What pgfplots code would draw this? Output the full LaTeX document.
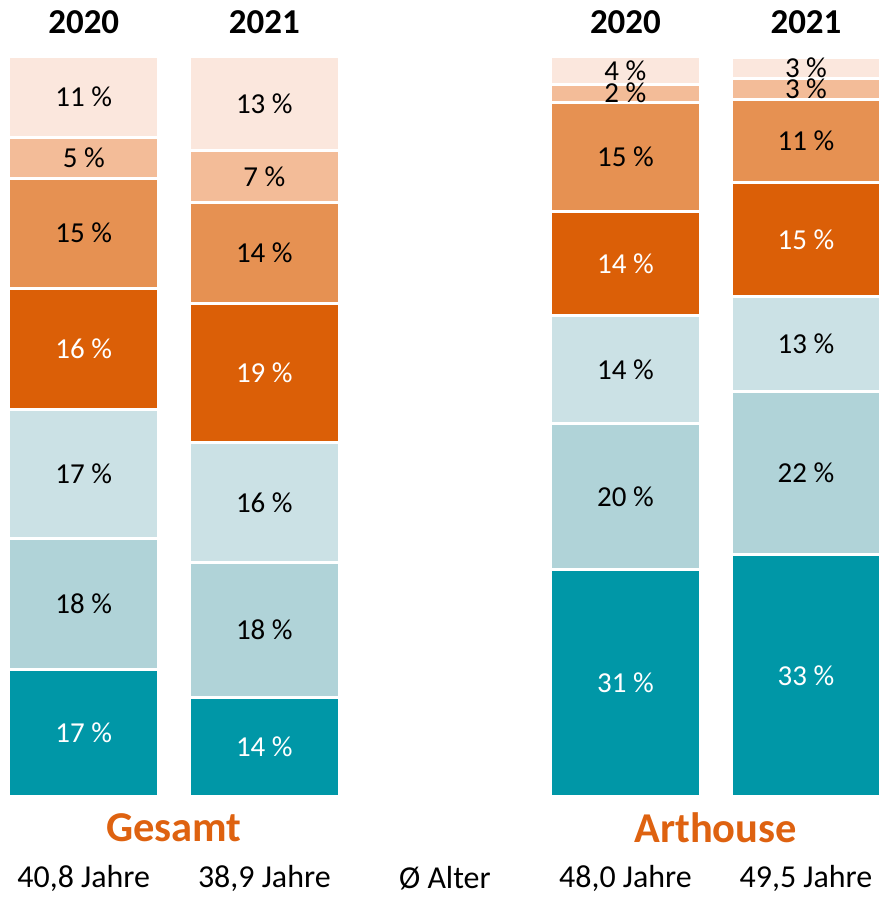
\documentclass[border=0pt]{standalone}
\usepackage{pgfplots}
\pgfplotsset{compat=1.18}
\usepackage{fontspec}
\setmainfont{Carlito}
\definecolor{cA}{HTML}{0097A7}
\definecolor{cB}{HTML}{B0D3D8}
\definecolor{cC}{HTML}{CBE1E5}
\definecolor{cD}{HTML}{DB5F07}
\definecolor{cE}{HTML}{E69152}
\definecolor{cF}{HTML}{F3BC98}
\definecolor{cG}{HTML}{FBE7DD}
\definecolor{hd}{HTML}{DE6210}
\begin{document}
\begin{tikzpicture}
\begin{axis}[
  scale only axis,
  width=441pt, height=449pt,
  xmin=-0.464, xmax=4.41,
  ymin=-13.5, ymax=107.7,
  axis lines=none, ticks=none,
  clip=false,
  ybar stacked,
  bar width=0.829,
  point meta=explicit symbolic,
  nodes near coords={\pgfplotspointmeta~\%},
  every node near coord/.append style={anchor=center, font=\fontsize{14.5}{16}\selectfont, inner sep=0pt},
]
\path (rel axis cs:0,0) rectangle (rel axis cs:1,1);
\addplot[fill=cA, draw=white, line width=1.5pt, every node near coord/.append style={text=white}] coordinates {(0,17.2)[17] (1,13.4)[14] (3,30.7)[31] (4,32.7)[33]};
\addplot[fill=cB, draw=white, line width=1.5pt] coordinates {(0,17.7)[18] (1,18.2)[18] (3,19.7)[20] (4,22.1)[22]};
\addplot[fill=cC, draw=white, line width=1.5pt] coordinates {(0,17.4)[17] (1,16.3)[16] (3,14.6)[14] (4,12.8)[13]};
\addplot[fill=cD, draw=white, line width=1.5pt, every node near coord/.append style={text=white}] coordinates {(0,16.4)[16] (1,18.7)[19] (3,14.1)[14] (4,15.4)[15]};
\addplot[fill=cE, draw=white, line width=1.5pt] coordinates {(0,14.9)[15] (1,13.7)[14] (3,14.8)[15] (4,11.3)[11]};
\addplot[fill=cF, draw=white, line width=1.5pt] coordinates {(0,5.5)[5] (1,7.0)[7] (3,2.4)[2] (4,2.8)[3]};
\addplot[fill=cG, draw=white, line width=1.5pt] coordinates {(0,10.9)[11] (1,12.7)[13] (3,3.7)[4] (4,2.8)[3]};
\node[font=\fontsize{17.5}{20}\selectfont\bfseries] at (axis cs:0,104.7) {2020};
\node[font=\fontsize{17.5}{20}\selectfont\bfseries] at (axis cs:1,104.7) {2021};
\node[font=\fontsize{17.5}{20}\selectfont\bfseries] at (axis cs:3,104.7) {2020};
\node[font=\fontsize{17.5}{20}\selectfont\bfseries] at (axis cs:4,104.7) {2021};
\node[font=\fontsize{21.3}{24}\selectfont\bfseries, text=hd] at (axis cs:0.5,-4.3) {Gesamt};
\node[font=\fontsize{21.3}{24}\selectfont\bfseries, text=hd] at (axis cs:3.5,-4.3) {Arthouse};
\node[font=\fontsize{16}{18}\selectfont] at (axis cs:0,-11.1) {40,8 Jahre};
\node[font=\fontsize{16}{18}\selectfont] at (axis cs:1,-11.1) {38,9 Jahre};
\node[font=\fontsize{16}{18}\selectfont] at (axis cs:2,-11.1) {Ø Alter};
\node[font=\fontsize{16}{18}\selectfont] at (axis cs:3,-11.1) {48,0 Jahre};
\node[font=\fontsize{16}{18}\selectfont] at (axis cs:4,-11.1) {49,5 Jahre};
\end{axis}
\end{tikzpicture}
\end{document}
